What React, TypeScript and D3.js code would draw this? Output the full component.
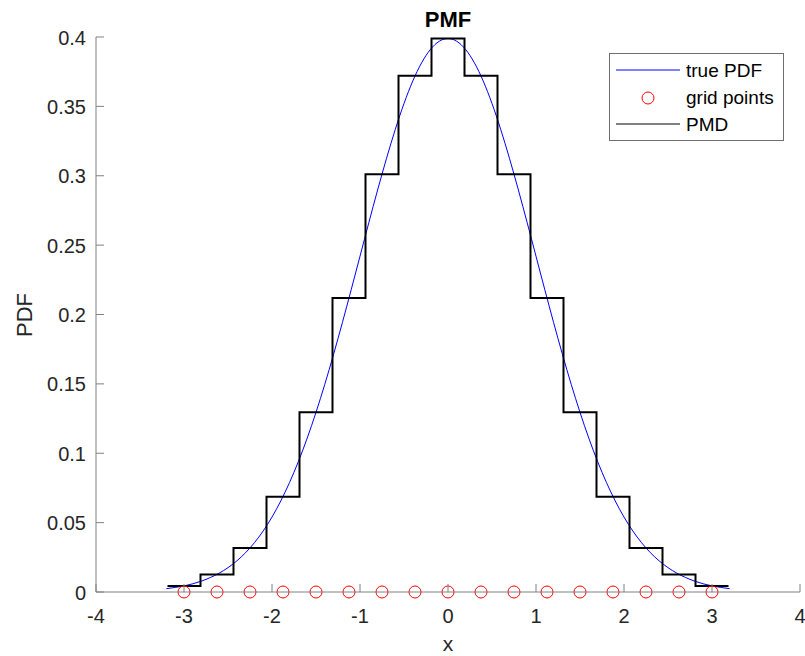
import React from "react";
import * as d3 from "d3";

const xTicks = [-4, -3, -2, -1, 0, 1, 2, 3, 4];
const yTicks = [0, 0.05, 0.1, 0.15, 0.2, 0.25, 0.3, 0.35, 0.4];
const yTickLabels = ["0", "0.05", "0.1", "0.15", "0.2", "0.25", "0.3", "0.35", "0.4"];

const gridX = [-3, -2.625, -2.25, -1.875, -1.5, -1.125, -0.75, -0.375, 0, 0.375, 0.75, 1.125, 1.5, 1.875, 2.25, 2.625, 3];
const pmdY = [0.0044, 0.0127, 0.0317, 0.0686, 0.1295, 0.2119, 0.3011, 0.372, 0.3989, 0.372, 0.3011, 0.2119, 0.1295, 0.0686, 0.0317, 0.0127, 0.0044];
const halfStep = 0.1875;

const pdfX = [-3.2, -3.0, -2.8, -2.6, -2.4, -2.2, -2.0, -1.8, -1.6, -1.4, -1.2, -1.0, -0.8, -0.6, -0.4, -0.2, 0, 0.2, 0.4, 0.6, 0.8, 1.0, 1.2, 1.4, 1.6, 1.8, 2.0, 2.2, 2.4, 2.6, 2.8, 3.0, 3.2];
const pdfY = [0.0024, 0.0044, 0.0079, 0.0136, 0.0224, 0.0355, 0.054, 0.079, 0.1109, 0.1497, 0.1942, 0.242, 0.2897, 0.3332, 0.3683, 0.391, 0.3989, 0.391, 0.3683, 0.3332, 0.2897, 0.242, 0.1942, 0.1497, 0.1109, 0.079, 0.054, 0.0355, 0.0224, 0.0136, 0.0079, 0.0044, 0.0024];

const W = 805, H = 656;
const FONT = "'Liberation Sans', Arial, Helvetica, sans-serif";
const TXT = "#262626";
const AX = "#808080";

export default function App() {
  const x = d3.scaleLinear().domain([-4, 4]).range([96, 800]);
  const y = d3.scaleLinear().domain([0, 0.4]).range([592, 37]);

  const pdfLine = d3.line<number>()
    .x((_, i) => x(pdfX[i]))
    .y((d) => y(d))
    .curve(d3.curveNatural)(pdfY) || "";

  const stairPts: [number, number][] = [];
  gridX.forEach((gx, i) => {
    stairPts.push([gx - halfStep, pmdY[i]]);
    stairPts.push([gx + halfStep, pmdY[i]]);
  });
  const stairLine = d3.line<[number, number]>()
    .x((d) => x(d[0]))
    .y((d) => y(d[1]))(stairPts) || "";

  const x0 = x(-4), x1 = x(4), yb = y(0), yt = y(0.4);

  return (
    <svg width={W} height={H} style={{ position: "absolute", left: 0, top: 0, background: "#fff" }} fontFamily={FONT}>
      <rect x={0} y={0} width={W} height={H} fill="#fff" />
      {/* data */}
      <path d={pdfLine} fill="none" stroke="#0000ff" strokeWidth={1} />
      <path d={stairLine} fill="none" stroke="#000" strokeWidth={2} />
      {gridX.map((gx, i) => (
        <circle key={i} cx={x(gx)} cy={y(0)} r={6} fill="none" stroke="#ff0000" strokeWidth={1} />
      ))}
      {/* axes */}
      <line x1={x0} y1={yb} x2={x1} y2={yb} stroke={AX} strokeWidth={1} />
      <line x1={x0} y1={yb} x2={x0} y2={yt} stroke={AX} strokeWidth={1} />
      {xTicks.map((t) => (
        <g key={"xt" + t}>
          <line x1={x(t)} x2={x(t)} y1={yb} y2={yb - 8} stroke={AX} strokeWidth={1} />
          <text x={x(t)} y={yb + 31} textAnchor="middle" fontSize={20} fill={TXT}>{String(t)}</text>
        </g>
      ))}
      {yTicks.map((t, i) => (
        <g key={"yt" + t}>
          <line x1={x0} x2={x0 + 8} y1={y(t)} y2={y(t)} stroke={AX} strokeWidth={1} />
          <text x={x0 - 10} y={y(t) + 7.5} textAnchor="end" fontSize={20} fill={TXT}>{yTickLabels[i]}</text>
        </g>
      ))}
      {/* labels */}
      <text x={448} y={651} textAnchor="middle" fontSize={21} fill={TXT}>x</text>
      <text transform={`translate(32,315) rotate(-90)`} textAnchor="middle" fontSize={22} fill={TXT}>PDF</text>
      <text x={448} y={27} textAnchor="middle" fontSize={22} fontWeight="bold" fill="#000">PMF</text>
      {/* legend */}
      <rect x={609.5} y={53.5} width={174} height={87} fill="#fff" stroke="#6e6e6e" strokeWidth={1} />
      <line x1={616} x2={680} y1={70} y2={70} stroke="#0000ff" strokeWidth={1} />
      <text x={686} y={77} fontSize={19} fill="#000">true PDF</text>
      <circle cx={648} cy={98} r={6} fill="none" stroke="#ff0000" strokeWidth={1} />
      <text x={686} y={104} fontSize={19} fill="#000">grid points</text>
      <line x1={616} x2={680} y1={124} y2={124} stroke="#000" strokeWidth={1} />
      <text x={686} y={131} fontSize={19} fill="#000">PMD</text>
    </svg>
  );
}
